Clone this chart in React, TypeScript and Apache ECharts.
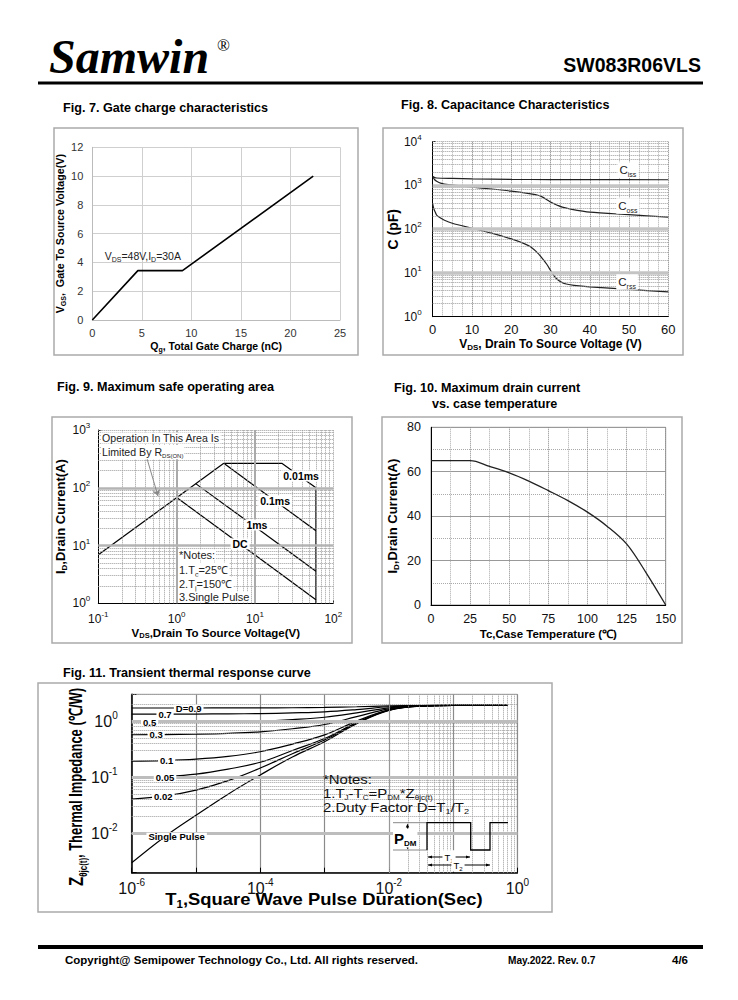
import React, { useEffect, useRef } from 'react';
import * as echarts from 'echarts';

const SANS = "'Liberation Sans', Arial, Helvetica, sans-serif";
const SERIF = "'Liberation Serif', 'Times New Roman', Times, serif";

// ---------- Fig. 7 gate charge ----------
const gateQg = [0, 4.6, 9.1, 22.3];
const gateVgs = [0, 3.43, 3.43, 10.0];
const gateNote = 'V{s|DS}=48V,I{s|D}=30A';
const gateNoteAt = [5.1, 4.45];

// ---------- Fig. 8 capacitance ----------
const cissV = [0, 0.5, 1, 5, 10, 20, 30, 40, 60];
const cissC = [1600, 1520, 1480, 1450, 1420, 1380, 1360, 1355, 1350];
const cossV = [0, 0.5, 1, 2, 4, 10, 15, 20, 25, 27, 28, 29, 30, 31, 32, 33, 35, 40, 50, 60];
const cossC = [1600, 1350, 1250, 1130, 1040, 915, 830, 740, 640, 590, 540, 480, 420, 380, 345, 320, 290, 245, 215, 188];
const crssV = [0, 0.3, 0.7, 1, 2, 3, 5, 10, 15, 20, 23, 25, 27, 28, 29, 30, 31, 32, 33, 34, 36, 40, 50, 60];
const crssC = [380, 290, 240, 210, 180, 160, 137, 105, 81, 60, 48, 39, 27, 21, 16, 11.5, 8.3, 6.8, 6.0, 5.6, 5.2, 4.8, 4.2, 3.7];
const capLabels = ['C{s|iss}', 'C{s|oss}', 'C{s|rss}'];
const capLabelV = [49.7, 49.7, 49.5];
const capLabelC = [2250, 339, 6.2];

// ---------- Fig. 9 SOA ----------
const rdsV = [0.1, 4];
const rdsI = [6.9, 265];
const soa10usV = [4, 22, 60, 60];
const soa10usI = [265, 265, 100, 1];
const soa100usV = [4, 60];
const soa100usI = [265, 18];
const soa1msV = [1.75, 60];
const soa1msI = [118, 3.6];
const soaDcV = [1.0, 60];
const soaDcI = [68, 1.15];
const soaLabels = ['0.01ms', '0.1ms', '1ms', 'DC'];
const soaLabelV = [38.8, 18.1, 10.6, 6.46];
const soaLabelI = [160, 59, 22.7, 10.7];
const soaArrowFrom = [0.406, 369];
const soaArrowTo = [0.578, 72];

// ---------- Fig. 10 drain current vs Tc ----------
const tcC = [0, 25, 37.5, 50, 62.5, 75, 87.5, 100, 112.5, 125, 137.5, 150];
const idA = [65, 65, 62.4, 59.5, 55.8, 51.5, 47, 41.8, 35.5, 27.5, 14.5, 0];

// ---------- Fig. 11 transient thermal ----------
const pulseT = [1e-6, 3.16e-6, 1e-5, 3.16e-5, 1e-4, 3.16e-4, 1e-3, 3.16e-3, 1e-2, 3.16e-2, 1e-1, 0.7];
const zSingle = [0.003, 0.0085, 0.021, 0.05, 0.11, 0.23, 0.43, 0.9, 1.55, 1.85, 1.9, 1.9];
const zD002 = [0.041, 0.046, 0.059, 0.087, 0.146, 0.263, 0.46, 0.92, 1.56, 1.85, 1.9, 1.9];
const zD005 = [0.098, 0.103, 0.114, 0.14, 0.185, 0.3, 0.49, 0.94, 1.57, 1.85, 1.9, 1.9];
const zD01 = [0.193, 0.198, 0.21, 0.235, 0.285, 0.39, 0.57, 1.0, 1.59, 1.86, 1.9, 1.9];
const zD03 = [0.572, 0.575, 0.585, 0.605, 0.645, 0.73, 0.87, 1.2, 1.65, 1.87, 1.9, 1.9];
const zD05 = [0.95, 0.952, 0.96, 0.975, 1.0, 1.065, 1.17, 1.4, 1.72, 1.88, 1.9, 1.9];
const zD07 = [1.33, 1.331, 1.336, 1.345, 1.36, 1.4, 1.46, 1.6, 1.8, 1.89, 1.9, 1.9];
const zD09 = [1.71, 1.711, 1.712, 1.715, 1.72, 1.73, 1.75, 1.8, 1.86, 1.89, 1.9, 1.9];
const thermalCurves = [zSingle, zD002, zD005, zD01, zD03, zD05, zD07, zD09];
const thermalLabels = ['Single Pulse', '0.02', '0.05', '0.1', '0.3', '0.5', '0.7', 'D=0.9'];
const thermalLabelT = [5e-6, 3.1e-6, 3.3e-6, 3.5e-6, 2.4e-6, 1.9e-6, 3.3e-6, 7.7e-6];
const thermalLabelZ = [0.0089, 0.045, 0.099, 0.196, 0.572, 0.95, 1.33, 1.71];

const zip = (xs: number[], ys: number[]) => xs.map((x, i) => [x, ys[i]]);

const supRich = (base: number, sup: number, bold = false) => ({
  b: { fontFamily: SANS, fontSize: base, color: '#111', fontWeight: bold ? 'bold' : 'normal', lineHeight: base + 5 },
  s: { fontFamily: SANS, fontSize: sup, color: '#111', fontWeight: bold ? 'bold' : 'normal', verticalAlign: 'top', lineHeight: sup + 1 },
});
const subRich = (base: number, sub: number, bold = true, color = '#000') => ({
  b: { fontFamily: SANS, fontSize: base, color, fontWeight: bold ? 'bold' : 'normal', lineHeight: base + 3 },
  s: { fontFamily: SANS, fontSize: sub, color, fontWeight: bold ? 'bold' : 'normal', verticalAlign: 'bottom', lineHeight: sub + 1 },
});

const expOf = (v: number) => {
  const l = Math.log10(v);
  const e = Math.round(l);
  return Math.abs(l - e) < 0.01 ? e : null;
};
const logFmt = (v: number) => {
  const e = expOf(v);
  return e === null ? '' : `{b|10}{s|${e}}`;
};
const logFmtEven = (v: number) => {
  const e = expOf(v);
  return e === null || e % 2 !== 0 ? '' : `{b|10}{s|${e}}`;
};

const minorLog = (e0: number, e1: number, lo: number, hi: number) => {
  const out: number[] = [];
  for (let e = e0; e <= e1; e++) for (let m = 2; m <= 9; m++) {
    const v = m * Math.pow(10, e);
    if (v >= lo * 0.999 && v <= hi * 1.001) out.push(v);
  }
  return out;
};

const DOT = { type: 'dotted', color: '#9a9a9a', width: 1 };

const gridLines = (idx: number, xMinor: number[], yMinor: number[], xMajor: number[], yMajor: number[], xMajorStyle: any, yMajorStyle: any) => ({
  type: 'line', xAxisIndex: idx, yAxisIndex: idx, data: [], silent: true,
  markLine: {
    silent: true, symbol: ['none', 'none'], label: { show: false }, animation: false,
    emphasis: { disabled: true },
    lineStyle: DOT,
    data: [
      ...xMinor.map((v) => ({ xAxis: v })),
      ...yMinor.map((v) => ({ yAxis: v })),
      ...xMajor.map((v) => ({ xAxis: v, lineStyle: xMajorStyle })),
      ...yMajor.map((v) => ({ yAxis: v, lineStyle: yMajorStyle })),
    ],
  },
});

const nameStyle = (size: number) => ({ fontFamily: SANS, fontWeight: 'bold', fontSize: size, color: '#000' });

function buildOption() {
  const black = { color: '#000' };
  return {
    animation: false,
    textStyle: { fontFamily: SANS },
    grid: [
      { left: 92.3, top: 147.3, width: 247.7, height: 172.7 },
      { left: 432.7, top: 141.7, width: 235.6, height: 175 },
      { left: 98.3, top: 430, width: 235, height: 173.3 },
      { left: 431, top: 427.3, width: 234.7, height: 177.7, show: true, borderColor: '#999', borderWidth: 1 },
      { left: 131.7, top: 694.3, width: 385.7, height: 178.4, show: true, borderColor: '#999', borderWidth: 1 },
    ],
    xAxis: [
      {
        type: 'value', gridIndex: 0, min: 0, max: 25, interval: 5,
        axisLine: { show: true, onZero: false, lineStyle: { color: '#bbb' } }, axisTick: { show: false },
        axisLabel: { fontSize: 11, color: '#333', margin: 7 },
        splitLine: { show: true, lineStyle: { color: '#cfcfcf' } },
        name: '{b|Q}{s|g}{b|, Total Gate Charge (nC)}', nameLocation: 'middle', nameGap: 19,
        nameTextStyle: { rich: subRich(10.5, 7) },
      },
      {
        type: 'value', gridIndex: 1, min: 0, max: 60, interval: 10,
        axisLine: { show: true, onZero: false, lineStyle: black }, axisTick: { show: false },
        axisLabel: { fontSize: 13, color: '#111', margin: 6 },
        splitLine: { show: true, lineStyle: { type: 'dotted', color: '#777' } },
        minorTick: { show: false, splitNumber: 4 },
        minorSplitLine: { show: true, lineStyle: { type: 'dotted', color: '#aaa' } },
        name: '{b|V}{s|DS}{b|, Drain To Source Voltage (V)}', nameLocation: 'middle', nameGap: 20,
        nameTextStyle: { rich: subRich(12, 8) },
      },
      {
        type: 'log', logBase: 10, gridIndex: 2, min: 0.1, max: 100,
        axisLine: { show: true, onZero: false, lineStyle: black }, axisTick: { show: true, inside: true, length: 3, lineStyle: black },
        axisLabel: { formatter: logFmt, rich: supRich(12, 8), margin: 7 },
        splitLine: { show: false },
        name: '{b|V}{s|DS}{b|,Drain To Source Voltage(V)}', nameLocation: 'middle', nameGap: 22,
        nameTextStyle: { rich: subRich(11.5, 7.5) },
      },
      {
        type: 'value', gridIndex: 3, min: 0, max: 150, interval: 25,
        axisLine: { show: true, onZero: false, lineStyle: black }, axisTick: { show: false },
        axisLabel: { fontSize: 12.5, color: '#111', margin: 7 },
        splitLine: { show: true, lineStyle: { type: 'dotted', color: '#888' } },
        minorTick: { show: false, splitNumber: 2 },
        minorSplitLine: { show: true, lineStyle: { type: 'dotted', color: '#aaa' } },
        name: 'Tc,Case Temperature (\u2103)', nameLocation: 'middle', nameGap: 23,
        nameTextStyle: nameStyle(11.5),
      },
      {
        type: 'log', logBase: 10, gridIndex: 4, min: 1e-6, max: 1,
        axisLine: { show: true, onZero: false, lineStyle: { color: '#000', width: 1.5 } },
        axisTick: { show: true, inside: true, length: 5, lineStyle: black },
        axisLabel: { formatter: logFmtEven, rich: supRich(16, 10), margin: 5 },
        splitLine: { show: true, lineStyle: { color: '#8a8a8a', width: 1.2 } },
      },
    ],
    yAxis: [
      {
        type: 'value', gridIndex: 0, min: 0, max: 12, interval: 2,
        axisLine: { show: true, lineStyle: { color: '#bbb' } }, axisTick: { show: false },
        axisLabel: { fontSize: 11, color: '#333', margin: 9 },
        splitLine: { show: true, lineStyle: { color: '#cfcfcf' } },
        name: '{b|V}{s|GS}{b|,  Gate To Source Voltage(V)}', nameLocation: 'middle', nameGap: 23,
        nameTextStyle: { rich: subRich(10.7, 7) },
      },
      {
        type: 'log', logBase: 10, gridIndex: 1, min: 1, max: 10000,
        axisLine: { show: true, lineStyle: black }, axisTick: { show: true, inside: true, length: 3, lineStyle: black },
        axisLabel: { formatter: logFmt, rich: supRich(12, 8), margin: 11 },
        splitLine: { show: false },
        name: 'C (pF)', nameLocation: 'middle', nameGap: 29, nameTextStyle: nameStyle(14),
      },
      {
        type: 'log', logBase: 10, gridIndex: 2, min: 1, max: 1000,
        axisLine: { show: true, lineStyle: black }, axisTick: { show: true, inside: true, length: 3, lineStyle: black },
        axisLabel: { formatter: logFmt, rich: supRich(12, 8), margin: 8 },
        splitLine: { show: false },
        name: '{b|I}{s|D}{b|,Drain Current(A)}', nameLocation: 'middle', nameGap: 22,
        nameTextStyle: { rich: subRich(13, 8) },
      },
      {
        type: 'value', gridIndex: 3, min: 0, max: 80, interval: 20,
        axisLine: { show: true, lineStyle: black }, axisTick: { show: false },
        axisLabel: { fontSize: 12.5, color: '#111', margin: 10 },
        splitLine: { show: true, lineStyle: { color: '#999' } },
        minorTick: { show: false, splitNumber: 2 },
        minorSplitLine: { show: true, lineStyle: { type: 'dotted', color: '#aaa' } },
        name: '{b|I}{s|D}{b|,Drain Current(A)}', nameLocation: 'middle', nameGap: 31,
        nameTextStyle: { rich: subRich(13, 8) },
      },
      {
        type: 'log', logBase: 10, gridIndex: 4, min: 0.002, max: 3,
        axisLine: { show: true, lineStyle: { color: '#000', width: 1.5 } },
        axisTick: { show: true, inside: true, length: 5, lineStyle: black },
        axisLabel: { formatter: logFmt, rich: supRich(16, 10), margin: 14 },
        splitLine: { show: false },
      },
    ],
    series: [
      gridLines(1, [], [...minorLog(0, 3, 1, 10000), 10000], [], [10, 100, 1000], null, { type: 'solid', color: '#c4c4c4', width: 3.5 }),
      gridLines(2, [...minorLog(-1, 1, 0.1, 100), 100], [...minorLog(0, 2, 1, 1000), 1000], [1, 10], [10, 100],
        { type: 'solid', color: '#aaa', width: 2 }, { type: 'solid', color: '#b4b4b4', width: 2.5 }),
      gridLines(4, minorLog(-6, -1, 1e-6, 1), minorLog(-3, 0, 0.002, 3), [], [0.01, 0.1, 1],
        null, { type: 'solid', color: '#bdbdbd', width: 3 }),
      { type: 'line', xAxisIndex: 0, yAxisIndex: 0, data: zip(gateQg, gateVgs), showSymbol: false, lineStyle: { color: '#000', width: 1.6 } },
      ...[[cissV, cissC], [cossV, cossC], [crssV, crssC]].map(([x, y]) => ({
        type: 'line', xAxisIndex: 1, yAxisIndex: 1, data: zip(x, y), showSymbol: false, smooth: 0.25,
        lineStyle: { color: '#222', width: 1.2 },
      })),
      ...[[rdsV, rdsI], [soa10usV, soa10usI], [soa100usV, soa100usI], [soa1msV, soa1msI], [soaDcV, soaDcI]].map(([x, y]) => ({
        type: 'line', xAxisIndex: 2, yAxisIndex: 2, data: zip(x, y), showSymbol: false,
        lineStyle: { color: '#000', width: 1.2 },
      })),
      {
        type: 'line', xAxisIndex: 2, yAxisIndex: 2, data: [], silent: true,
        markLine: {
          silent: true, symbol: ['none', 'arrow'], symbolSize: 6, label: { show: false },
          lineStyle: { type: 'solid', color: '#888', width: 1 },
          data: [[{ coord: soaArrowFrom }, { coord: soaArrowTo }]],
        },
      },
      { type: 'line', xAxisIndex: 3, yAxisIndex: 3, data: zip(tcC, idA), showSymbol: false, smooth: 0.35, lineStyle: { color: '#222', width: 1.3 } },
      ...thermalCurves.map((z) => ({
        type: 'line', xAxisIndex: 4, yAxisIndex: 4, data: zip(pulseT, z), showSymbol: false, smooth: 0.4,
        lineStyle: { color: '#000', width: 1.2 },
      })),
    ],
  };
}

const T = (x: number, y: number, text: string, style: any = {}, extra: any = {}) => ({
  type: 'text', x, y, z: 100, silent: true, ...extra,
  style: { text, fontFamily: SANS, fontSize: 12, fill: '#000', align: 'left', verticalAlign: 'middle', ...style },
});
const richStyle = (base: number, sub: number, bold: boolean, color = '#000') => ({
  rich: {
    b: { fontFamily: SANS, fontSize: base, fontWeight: bold ? 'bold' : 'normal', fill: color, color, lineHeight: base + 4 },
    s: { fontFamily: SANS, fontSize: sub, fontWeight: bold ? 'bold' : 'normal', fill: color, color, verticalAlign: 'bottom', lineHeight: sub + 1 },
  },
});
const wrapB = (t: string) => t.replace(/(^|\})([^{}]+)(?=\{|$)/g, (m, a, b) => `${a}{b|${b}}`);

function buildGraphics(chart: any) {
  const px = (g: number, v: number[]) => chart.convertToPixel({ gridIndex: g }, v) as number[];
  const els: any[] = [];
  // header
  els.push(T(49, 56, 'Samwin', { fontFamily: SERIF, fontWeight: 'bold', fontStyle: 'italic', fontSize: 48 }));
  els.push(T(217, 45, '\u00ae', { fontFamily: SERIF, fontSize: 17 }));
  els.push(T(701, 65, 'SW083R06VLS', { fontWeight: 'bold', fontSize: 19.5, align: 'right' }));
  els.push({ type: 'rect', z: 100, shape: { x: 38, y: 81.5, width: 665, height: 3 }, style: { fill: '#000' } });
  // footer
  els.push({ type: 'rect', z: 100, shape: { x: 38, y: 945, width: 665, height: 4 }, style: { fill: '#000' } });
  els.push(T(65, 960, 'Copyright@ Semipower Technology Co., Ltd. All rights reserved.', { fontWeight: 'bold', fontSize: 11.5 }));
  els.push(T(508, 960, 'May.2022. Rev. 0.7', { fontWeight: 'bold', fontSize: 11.5 }, { scaleX: 0.88 }));
  els.push(T(672, 960, '4/6', { fontWeight: 'bold', fontSize: 11.5 }));
  // titles
  const tStyle = { fontWeight: 'bold', fontSize: 12.6 };
  els.push(T(63, 108, 'Fig. 7. Gate charge characteristics', tStyle));
  els.push(T(401, 105, 'Fig. 8. Capacitance Characteristics', tStyle));
  els.push(T(57, 386.5, 'Fig. 9. Maximum safe operating area', tStyle));
  els.push(T(394, 388, 'Fig. 10. Maximum drain current', tStyle));
  els.push(T(432, 403.5, 'vs. case temperature', tStyle));
  els.push(T(63, 673, 'Fig. 11. Transient thermal response curve', tStyle));
  // boxes
  const box = (x: number, y: number, w: number, h: number) => ({
    type: 'rect', z: 100, shape: { x, y, width: w, height: h }, style: { fill: 'none', stroke: '#aaa', lineWidth: 1.5 },
  });
  els.push(box(54, 128, 304, 227), box(383, 128, 300, 227), box(52, 417, 300, 226), box(382, 417, 300, 226), box(38, 683, 514, 229));

  // Fig 7 note
  const g7 = px(0, gateNoteAt);
  els.push(T(g7[0], g7[1], wrapB(gateNote), { align: 'center', ...richStyle(10.5, 7, false, '#222') }));

  // Fig 8 labels
  capLabels.forEach((l, i) => {
    const p = px(1, [capLabelV[i], capLabelC[i]]);
    els.push(T(p[0], p[1], wrapB(l), { align: 'center', backgroundColor: '#fff', padding: [0, 2], ...richStyle(11.5, 7, false, '#222') }));
  });

  // Fig 9 labels
  soaLabels.forEach((l, i) => {
    const p = px(2, [soaLabelV[i], soaLabelI[i]]);
    els.push(T(p[0], p[1], l, { align: 'center', fontWeight: 'bold', fontSize: 10.5, backgroundColor: '#fff', padding: [0, 2] }));
  });
  const n9 = { fill: '#222', backgroundColor: '#fff', padding: [0, 1] };
  els.push(T(101, 438, 'Operation In This Area Is', { fontSize: 10.6, ...n9 }));
  els.push(T(101, 452, wrapB('Limited By R{s|DS(ON)}'), { ...n9, ...richStyle(10.6, 6, false, '#222') }));
  els.push(T(178, 555, '*Notes:', { fontSize: 11, ...n9 }));
  els.push(T(178, 570, wrapB('1.T{s|c}=25\u2103'), { ...n9, ...richStyle(11, 7, false, '#222') }));
  els.push(T(178, 584, wrapB('2.T{s|j}=150\u2103'), { ...n9, ...richStyle(11, 7, false, '#222') }));
  els.push(T(178, 597, '3.Single Pulse', { fontSize: 11, ...n9 }));

  // Fig 11 labels
  thermalLabels.forEach((l, i) => {
    const p = px(4, [thermalLabelT[i], thermalLabelZ[i]]);
    els.push(T(p[0], p[1], l, { align: 'center', fontWeight: 'bold', fontSize: 9.5, lineHeight: 7, backgroundColor: '#fff', padding: [0, 2] }));
  });
  // Fig 11 axis names
  els.push(T(76, 787, '{z|Z}{s|\u03b8jc(t)}{b|, Thermal Impedance (\u2103/W)}', {
    align: 'center',
    rich: {
      z: { fontFamily: SANS, fontWeight: 'bold', fontSize: 21, lineHeight: 24 },
      s: { fontFamily: SANS, fontWeight: 'bold', fontSize: 11, verticalAlign: 'bottom', lineHeight: 12 },
      b: { fontFamily: SANS, fontWeight: 'bold', fontSize: 18, lineHeight: 24 },
    },
  }, { rotation: Math.PI / 2, scaleX: 0.72 }));
  els.push(T(324, 899, wrapB('T{s|1},Square Wave Pulse Duration(Sec)'), { align: 'center', ...richStyle(16, 10, true) }, { scaleX: 1.15 }));
  // Fig 11 notes
  els.push(T(323, 779, '*Notes:', { fontSize: 13, fill: '#111' }, { scaleX: 1.15 }));
  els.push(T(323, 793, wrapB('1.T{s|J}-T{s|C}=P{s|DM}*Z{s|\u03b8jc(t)}'), richStyle(13, 7, false, '#111'), { scaleX: 1.15 }));
  els.push(T(323, 807, wrapB('2.Duty Factor D=T{s|1}/T{s|2}'), richStyle(13, 8, false, '#111'), { scaleX: 1.15 }));
  // pulse diagram
  const ln = (x1: number, y1: number, x2: number, y2: number, c = '#000', w = 1) => ({ type: 'line', z: 100, shape: { x1, y1, x2, y2 }, style: { stroke: c, lineWidth: w } });
  const tri = (pts: number[][]) => ({ type: 'polygon', z: 100, shape: { points: pts }, style: { fill: '#000' } });
  els.push(ln(393, 822.7, 427, 822.7, '#888'), ln(393, 850, 427, 850, '#888'));
  els.push({ type: 'polyline', z: 100, shape: { points: [[427, 850], [427, 822.7], [470.7, 822.7], [470.7, 850], [490, 850], [490, 822.7], [508, 822.7]] }, style: { stroke: '#000', lineWidth: 1.3, fill: 'none' } });
  els.push(ln(407.5, 827, 407.5, 832), tri([[407.5, 823.5], [405.8, 827.5], [409.2, 827.5]]));
  els.push(ln(407.5, 846, 407.5, 842), tri([[407.5, 849.5], [405.8, 845.5], [409.2, 845.5]]));
  els.push(T(393, 838, wrapB('P{s|DM}'), { ...richStyle(15, 8, true), backgroundColor: '#fff', padding: [0, 1] }));
  els.push(ln(428, 857, 470, 857), tri([[428, 857], [432, 855.4], [432, 858.6]]), tri([[470, 857], [466, 855.4], [466, 858.6]]));
  els.push(ln(428, 865, 490, 865), tri([[428, 865], [432, 863.4], [432, 866.6]]), tri([[490, 865], [486, 863.4], [486, 866.6]]));
  els.push(T(449, 857, wrapB('T{s|1}'), { align: 'center', backgroundColor: '#fff', padding: [0, 2], ...richStyle(9.5, 6, false) }));
  els.push(T(458, 865, wrapB('T{s|2}'), { align: 'center', backgroundColor: '#fff', padding: [0, 2], ...richStyle(9.5, 6, false) }));
  return els;
}

export default function App() {
  const ref = useRef<HTMLDivElement>(null);
  useEffect(() => {
    const chart = echarts.init(ref.current as HTMLDivElement, null, { renderer: 'svg', width: 738, height: 1000 });
    chart.setOption(buildOption() as any);
    chart.setOption({ graphic: buildGraphics(chart) } as any);
    return () => chart.dispose();
  }, []);
  return <div ref={ref} style={{ position: 'absolute', left: 0, top: 0, width: 738, height: 1000, background: '#fff' }} />;
}
